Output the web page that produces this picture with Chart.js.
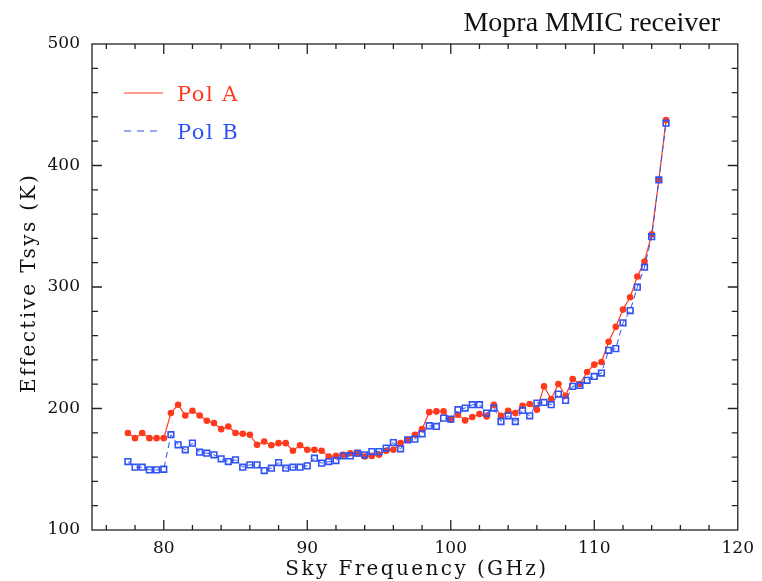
<!DOCTYPE html>
<html>
<head>
<meta charset="utf-8">
<script src="https://cdn.jsdelivr.net/npm/chart.js@4.4.1/dist/chart.umd.min.js"></script>
<style>
  html, body { margin: 0; padding: 0; background: #fff; }
  #wrap { width: 762px; height: 581px; }
</style>
</head>
<body>
<div id="wrap"><canvas id="tsysChart" width="762" height="581"></canvas></div>
<script>
// sky frequency in GHz, one point every 0.5 GHz from 77.5 to 115
var freqs = [];
for (var f = 77.5; f <= 115.001; f += 0.5) freqs.push(f);

var polA = [179.8, 175.6, 179.8, 175.6, 175.6, 175.6,
  196.2, 203.1, 194.3, 198.1, 194.3, 189.9, 188.0, 183.0, 185.2, 179.8,
  179.2, 178.4, 170.1, 172.8, 169.8, 171.5, 171.5, 165.2, 169.8, 166.0,
  166.0, 165.2, 160.5, 161.0, 161.9, 163.2, 162.7, 160.5, 161.0, 161.9,
  165.2, 166.0, 171.5, 174.2, 178.4, 183.0, 197.0, 197.6, 197.6, 190.7,
  194.8, 190.2, 193.0, 195.4, 193.5, 203.1, 194.0, 198.1, 196.2, 202.3,
  203.7, 199.0, 218.2, 207.8, 220.2, 210.5, 224.3, 220.2, 230.0, 236.1,
  238.3, 255.0, 267.2, 281.4, 291.6, 308.7, 321.0, 343.3, 388.1, 437.5];

var polB = [156.3, 151.7, 151.7, 149.5, 149.5, 150.0,
  178.4, 170.1, 166.0, 171.5, 164.0, 163.2, 161.9, 158.6, 156.3, 157.7,
  151.7, 153.6, 153.6, 148.9, 150.9, 155.5, 150.9, 151.7, 151.7, 152.8,
  159.1, 155.0, 156.3, 157.2, 161.0, 161.0, 163.2, 161.9, 164.6, 164.6,
  167.4, 172.0, 166.8, 174.2, 174.8, 179.2, 185.8, 185.2, 192.1, 191.3,
  199.0, 200.4, 203.1, 203.1, 196.2, 200.4, 189.3, 194.0, 189.3, 198.4,
  194.0, 204.5, 205.0, 203.1, 211.9, 206.7, 218.2, 219.0, 223.2, 226.4,
  229.2, 247.9, 249.3, 270.5, 280.6, 299.8, 316.3, 341.4, 388.1, 434.8];

var xTicks = [80, 90, 100, 110, 120];
var yTicks = [100, 200, 300, 400, 500];

var redCol = '#ff3a1c';
var blueCol = '#2f52f2';

function pts(ys) {
  return freqs.map(function (x, i) { return { x: x, y: ys[i] }; });
}

// frame, inward ticks on four sides, legend and titles
var framePlugin = {
  id: 'frame',
  afterDatasetsDraw: function (chart) {
    var ctx = chart.ctx, a = chart.chartArea;
    var xs = chart.scales.x, ys = chart.scales.y;
    ctx.save();
    ctx.strokeStyle = '#222';
    ctx.lineWidth = 1.3;
    ctx.strokeRect(a.left, a.top, a.right - a.left, a.bottom - a.top);
    ctx.beginPath();
    for (var v = 76; v < 120; v += 2) {
      var px = xs.getPixelForValue(v);
      var len = v % 10 === 0 ? 10 : 5;
      ctx.moveTo(px, a.bottom); ctx.lineTo(px, a.bottom - len);
      ctx.moveTo(px, a.top); ctx.lineTo(px, a.top + len);
    }
    for (var w = 120; w < 500; w += 20) {
      var py = ys.getPixelForValue(w);
      var l2 = w % 100 === 0 ? 10 : 6;
      ctx.moveTo(a.left, py); ctx.lineTo(a.left + l2, py);
      ctx.moveTo(a.right, py); ctx.lineTo(a.right - l2, py);
    }
    ctx.stroke();

    // legend
    ctx.lineWidth = 1.2;
    ctx.strokeStyle = redCol;
    ctx.beginPath(); ctx.moveTo(124, 93); ctx.lineTo(163, 93); ctx.stroke();
    ctx.strokeStyle = blueCol;
    ctx.setLineDash([7, 6]);
    ctx.beginPath(); ctx.moveTo(124, 131); ctx.lineTo(163, 131); ctx.stroke();
    ctx.setLineDash([]);
    ctx.font = '21px "DejaVu Serif"';
    ctx.letterSpacing = '1.5px';
    ctx.textBaseline = 'alphabetic';
    ctx.textAlign = 'left';
    ctx.fillStyle = redCol;
    ctx.fillText('Pol A', 177, 101);
    ctx.fillStyle = blueCol;
    ctx.fillText('Pol B', 177, 139);

    // axis titles
    ctx.fillStyle = '#111';
    ctx.font = '20px "DejaVu Serif"';
    ctx.letterSpacing = '2.4px';
    ctx.textAlign = 'center';
    ctx.fillText('Sky Frequency (GHz)', (a.left + a.right) / 2 + 2, 575);
    ctx.save();
    ctx.translate(35, (a.top + a.bottom) / 2 - 4);
    ctx.rotate(-Math.PI / 2);
    ctx.fillText('Effective Tsys (K)', 0, 0);
    ctx.restore();

    // title
    ctx.letterSpacing = '0px';
    ctx.font = '28px "Liberation Serif"';
    ctx.textAlign = 'right';
    ctx.fillText('Mopra MMIC receiver', 720, 31);
    ctx.restore();
  }
};

var ctx = document.getElementById('tsysChart').getContext('2d');
var tsysChart = new Chart(ctx, {
  type: 'line',
  data: {
    datasets: [{
      label: 'Pol B',
      data: pts(polB),
      borderColor: blueCol,
      borderWidth: 1,
      borderDash: [6, 4],
      pointStyle: 'rect',
      pointRadius: 4,
      pointBorderWidth: 1.6,
      pointBorderColor: blueCol,
      pointBackgroundColor: 'rgba(0,0,0,0)',
      tension: 0,
      order: 0
    }, {
      label: 'Pol A',
      data: pts(polA),
      borderColor: redCol,
      borderWidth: 1.2,
      pointStyle: 'circle',
      pointRadius: 3.3,
      pointBorderWidth: 0,
      pointBackgroundColor: redCol,
      tension: 0,
      order: 1
    }]
  },
  options: {
    responsive: false,
    animation: false,
    layout: { padding: { top: 44, right: 19, left: 0, bottom: 0 } },
    plugins: {
      legend: { display: false },
      tooltip: { enabled: false }
    },
    scales: {
      x: {
        type: 'linear',
        min: 75,
        max: 120,
        grid: { display: false, drawTicks: false },
        border: { display: false },
        afterBuildTicks: function (s) { s.ticks = xTicks.map(function (v) { return { value: v }; }); },
        afterFit: function (s) { s.height = 51; },
        ticks: {
          autoSkip: false, maxRotation: 0, padding: 8, color: '#111',
          font: { family: 'DejaVu Serif', size: 17 }
        }
      },
      y: {
        min: 100,
        max: 500,
        grid: { display: false, drawTicks: false },
        border: { display: false },
        afterBuildTicks: function (s) { s.ticks = yTicks.map(function (v) { return { value: v }; }); },
        afterFit: function (s) { s.width = 92; },
        ticks: {
          padding: 12, color: '#111',
          font: { family: 'DejaVu Serif', size: 17 }
        }
      }
    }
  },
  plugins: [framePlugin]
});
</script>
</body>
</html>
